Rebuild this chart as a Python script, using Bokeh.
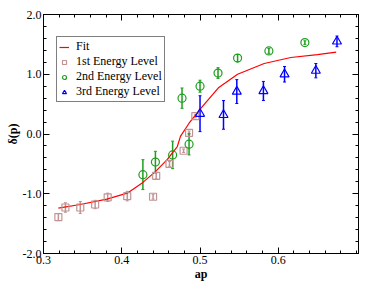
from bokeh.plotting import figure
from bokeh.models import (ColumnDataSource, Whisker, TeeHead, Legend, LegendItem,
                          LinearAxis, FixedTicker, PrintfTickFormatter, Range1d)
from bokeh.embed import file_html
from bokeh.resources import INLINE

# ---- data ----
fit_x = [0.319, 0.347, 0.381, 0.407, 0.427, 0.443, 0.458, 0.471, 0.475, 0.486,
         0.501, 0.524, 0.548, 0.582, 0.616, 0.650, 0.674]
fit_y = [-1.24, -1.18, -1.09, -0.99, -0.81, -0.63, -0.43, -0.21, -0.04, 0.18,
         0.43, 0.78, 1.00, 1.18, 1.28, 1.33, 1.37]

lvl1_x = [0.319, 0.328, 0.347, 0.366, 0.382, 0.407, 0.440, 0.444, 0.461, 0.479, 0.486, 0.494]
lvl1_y = [-1.39, -1.23, -1.23, -1.18, -1.06, -1.04, -1.05, -0.70, -0.50, -0.28, 0.02, 0.30]
lvl1_e = [0.06, 0.08, 0.10, 0.07, 0.07, 0.08, 0.04, 0.05, 0.04, 0.03, 0.03, 0.03]

lvl2_x = [0.427, 0.443, 0.465, 0.486, 0.477, 0.500, 0.523, 0.548, 0.588, 0.634]
lvl2_y = [-0.68, -0.47, -0.35, -0.17, 0.60, 0.80, 1.02, 1.27, 1.39, 1.53]
lvl2_e = [0.25, 0.18, 0.23, 0.18, 0.17, 0.10, 0.09, 0.06, 0.04, 0.03]

lvl3_x = [0.500, 0.530, 0.547, 0.581, 0.608, 0.648, 0.675]
lvl3_y = [0.34, 0.32, 0.71, 0.72, 1.00, 1.06, 1.55]
lvl3_e = [0.30, 0.24, 0.20, 0.16, 0.13, 0.12, 0.09]

x_ticks = [0.3, 0.4, 0.5, 0.6]
y_ticks = [-2.0, -1.0, 0.0, 1.0, 2.0]

FONT = "'Liberation Serif', 'Times New Roman', serif"
C1 = "#c09494"
C2 = "#1e9e1e"
C3 = "#0000ff"
CF = "#ff0000"

p = figure(width=366, height=283, output_backend="svg", toolbar_location=None,
           x_range=Range1d(0.3, 0.7025), y_range=Range1d(-2.0, 2.0),
           min_border_left=43, min_border_right=8, min_border_top=14, min_border_bottom=29,
           x_axis_label="ap", y_axis_label="δ(p)")
p.grid.visible = False
p.outline_line_color = "black"
p.outline_line_width = 1

x_minor = [round(0.3 + 0.02 * i, 3) for i in range(21)]
y_minor = [round(-2.0 + 0.2 * i, 3) for i in range(21)]

def style_axis(ax, ticks, minor, show_labels=True):
    ax.ticker = FixedTicker(ticks=ticks, minor_ticks=minor)
    ax.formatter = PrintfTickFormatter(format="%.1f")
    ax.major_tick_in = 6
    ax.major_tick_out = 0
    ax.minor_tick_in = 3
    ax.minor_tick_out = 0
    ax.axis_line_color = "black"
    ax.major_tick_line_color = "black"
    ax.minor_tick_line_color = "black"
    ax.major_label_text_font = FONT
    ax.major_label_text_font_size = "12px" if show_labels else "0px"
    ax.major_label_text_color = "black"
    ax.axis_label_text_font = FONT
    ax.axis_label_text_font_size = "12px"
    ax.axis_label_text_font_style = "bold"
    ax.axis_label_text_color = "black"
    if not show_labels:
        ax.major_label_text_color = None
        ax.major_label_standoff = 0

for ax in p.xaxis:
    style_axis(ax, x_ticks, x_minor)
    ax.major_label_standoff = 2
    ax.axis_label_standoff = 0
for ax in p.yaxis:
    style_axis(ax, y_ticks, y_minor)
    ax.major_label_standoff = 2
    ax.axis_label_standoff = 0

top = LinearAxis()
style_axis(top, x_ticks, x_minor, show_labels=False)
p.add_layout(top, "above")
right = LinearAxis()
style_axis(right, y_ticks, y_minor, show_labels=False)
p.add_layout(right, "right")

def err_source(xs, ys, es):
    return ColumnDataSource(dict(x=xs, y=ys,
                                 lo=[y - e for y, e in zip(ys, es)],
                                 hi=[y + e for y, e in zip(ys, es)]))

s1 = err_source(lvl1_x, lvl1_y, lvl1_e)
s2 = err_source(lvl2_x, lvl2_y, lvl2_e)
s3 = err_source(lvl3_x, lvl3_y, lvl3_e)

for src, col in [(s1, C1), (s2, C2), (s3, C3)]:
    w = Whisker(source=src, base="x", lower="lo", upper="hi", line_color=col, line_width=1.5,
                upper_head=TeeHead(size=3, line_color=col, line_width=1),
                lower_head=TeeHead(size=3, line_color=col, line_width=1))
    p.add_layout(w)

r_fit = p.line(fit_x, fit_y, line_color=CF, line_width=1.2)
r1 = p.scatter("x", "y", source=s1, marker="square", size=7, fill_color=None,
               line_color=C1, line_width=1.2)
r2 = p.scatter("x", "y", source=s2, marker="circle", size=8, fill_color=None,
               line_color=C2, line_width=1.2)
r3 = p.scatter("x", "y", source=s3, marker="triangle", size=9, fill_color=None,
               line_color=C3, line_width=1.2)

legend = Legend(items=[
    LegendItem(label="Fit", renderers=[r_fit]),
    LegendItem(label="1st Energy Level", renderers=[r1]),
    LegendItem(label="2nd Energy Level", renderers=[r2]),
    LegendItem(label="3rd Energy Level", renderers=[r3]),
], location=(13, 151))
legend.label_text_font = FONT
legend.label_text_font_size = "12px"
legend.label_text_line_height = 0.9
legend.label_text_color = "black"
legend.border_line_color = "black"
legend.border_line_width = 1
legend.background_fill_color = "white"
legend.background_fill_alpha = 1
legend.padding = 2
legend.spacing = 0
legend.margin = 0
legend.glyph_width = 10
legend.glyph_height = 10
legend.label_height = 10
legend.label_standoff = 7
p.add_layout(legend, "center")

open("out.html", "w").write(file_html(p, INLINE))
